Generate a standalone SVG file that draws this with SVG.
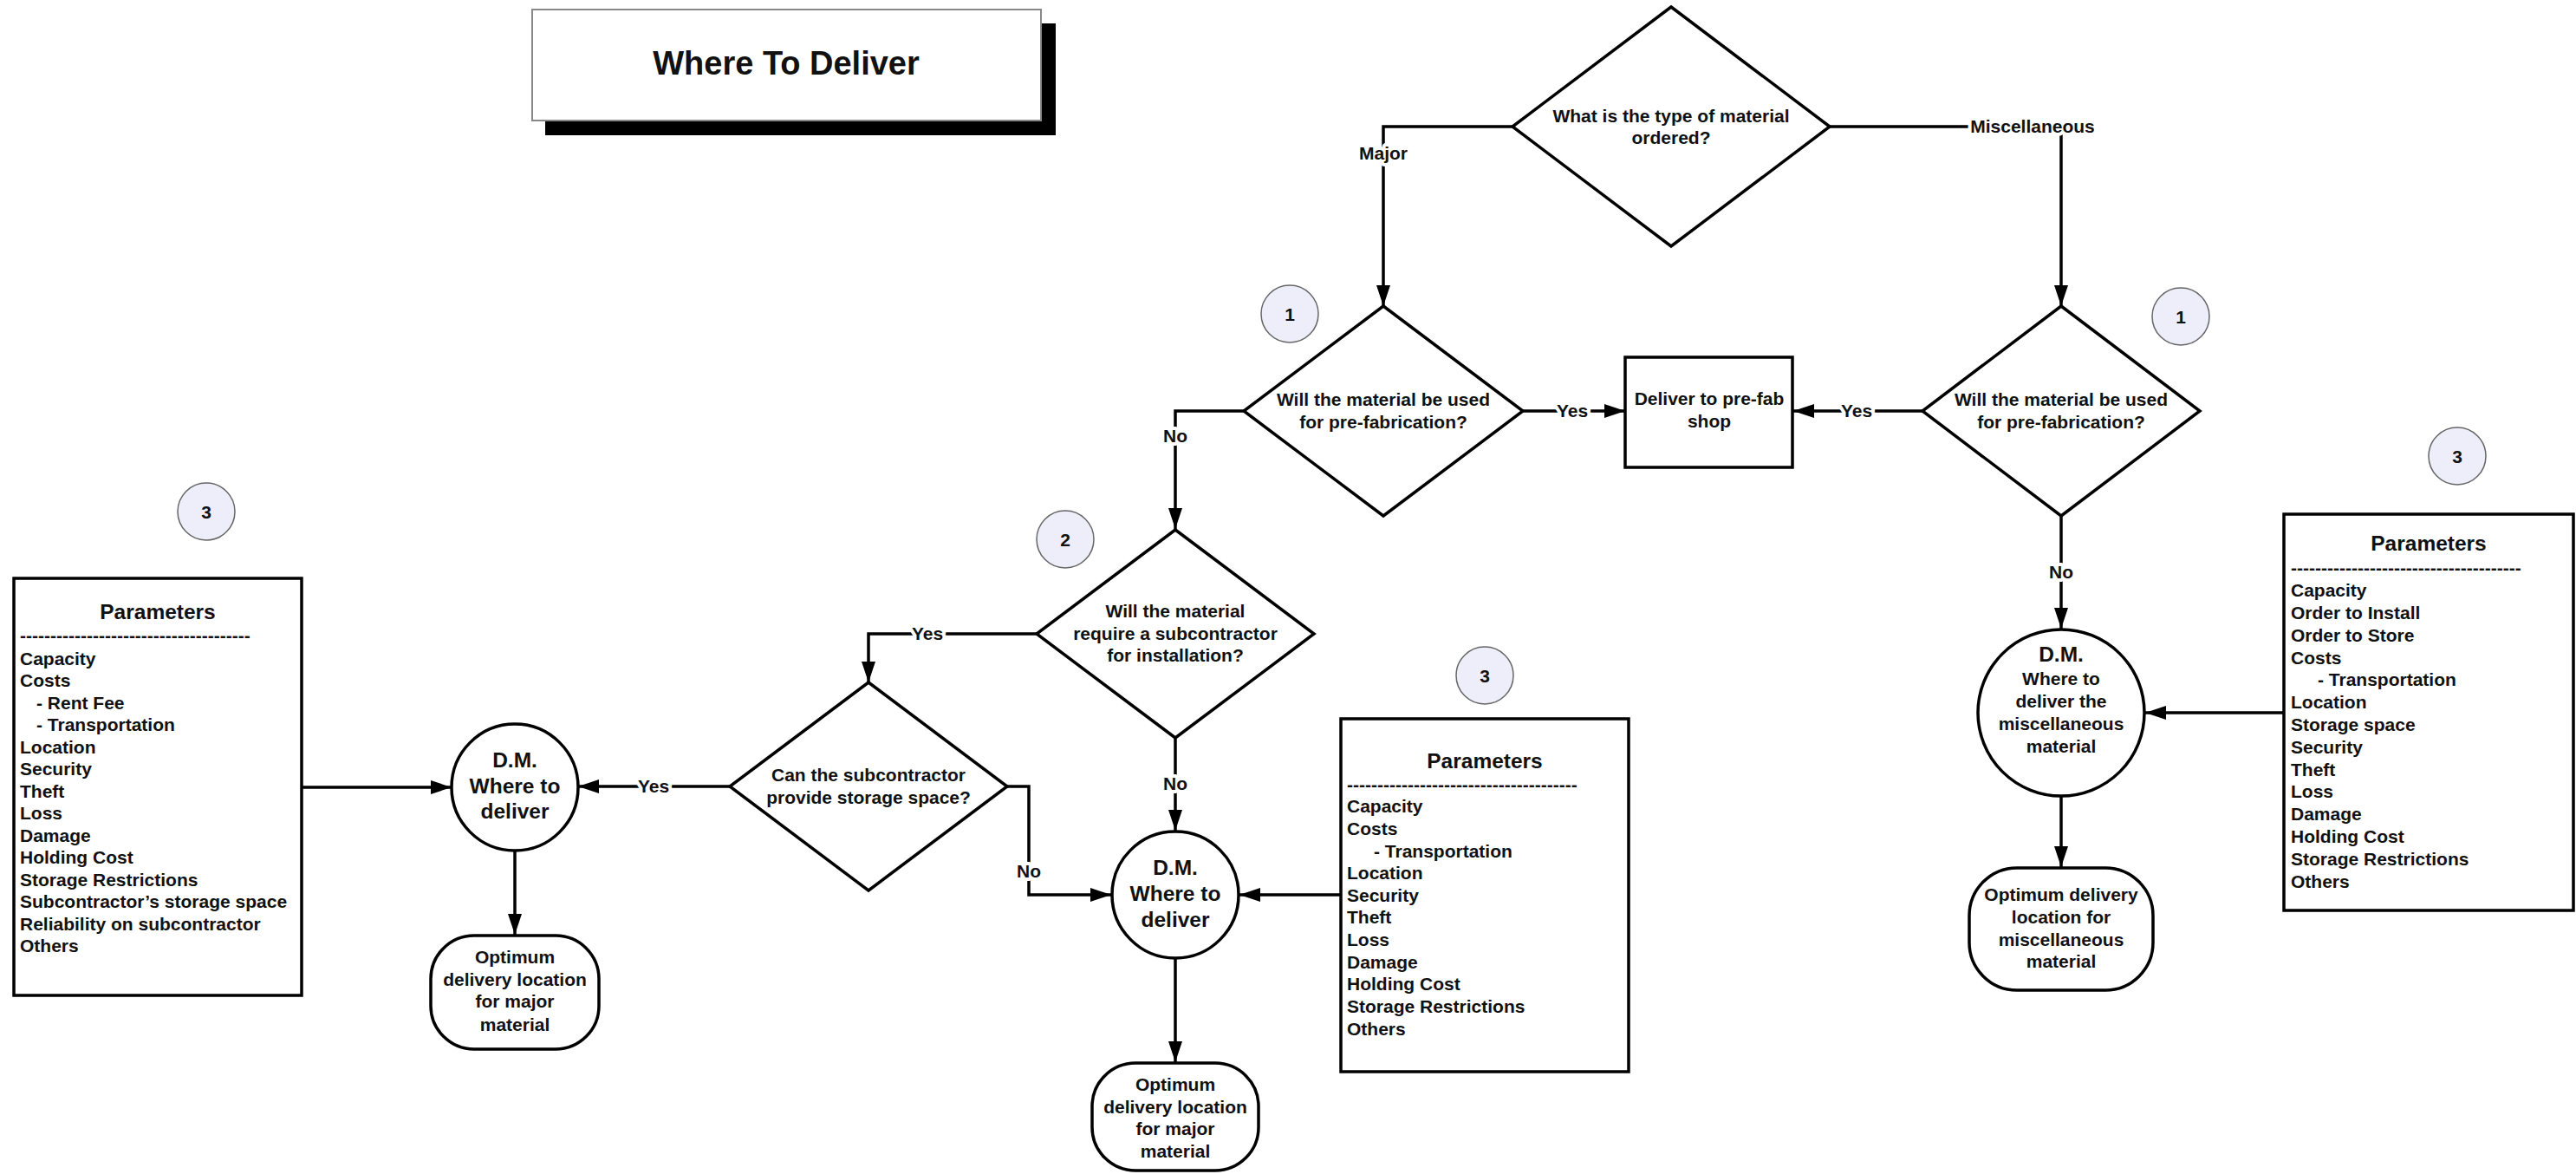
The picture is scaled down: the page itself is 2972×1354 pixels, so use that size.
<svg xmlns="http://www.w3.org/2000/svg" width="2972" height="1354" viewBox="0 0 2972 1354">
<style>
.t{font-family:"Liberation Sans",Arial,sans-serif;font-weight:bold;font-size:21px;fill:#111}
.c{text-anchor:middle}
.big{font-size:24.5px}
.lbl{paint-order:stroke;stroke:#fff;stroke-width:8px;stroke-linejoin:round}
.shape{fill:#fff;stroke:#000;stroke-width:3.5}
.conn{fill:none;stroke:#000;stroke-width:3.5}
.num{fill:#EEEEFA;stroke:#666;stroke-width:1.5}
</style>
<defs>
<marker id="arr" markerUnits="userSpaceOnUse" markerWidth="24" markerHeight="16" refX="24" refY="8" orient="auto">
<path d="M0,0 L24,8 L0,16 z" fill="#000"/>
</marker>
</defs>
<rect width="2972" height="1354" fill="#fff"/>

<g id="title">
<rect x="629" y="27" width="589" height="129" fill="#000"/>
<rect x="614" y="11" width="587" height="128" fill="#fff" stroke="#888" stroke-width="2"/>
<text class="t c" x="907" y="86" style="font-size:38px">Where To Deliver</text>
</g>

<g id="connectors">
<path class="conn" d="M1745,146 H1596 V353" marker-end="url(#arr)"/>
<path class="conn" d="M2111,146 H2378 V353" marker-end="url(#arr)"/>
<path class="conn" d="M1757,474 H1875" marker-end="url(#arr)"/>
<path class="conn" d="M2218,474 H2069" marker-end="url(#arr)"/>
<path class="conn" d="M1435,474 H1356 V610" marker-end="url(#arr)"/>
<path class="conn" d="M1196,731 H1002 V787" marker-end="url(#arr)"/>
<path class="conn" d="M1356,851 V958" marker-end="url(#arr)"/>
<path class="conn" d="M1162,907 H1187 V1032 H1282" marker-end="url(#arr)"/>
<path class="conn" d="M842,907 H667" marker-end="url(#arr)"/>
<path class="conn" d="M348,908 H521" marker-end="url(#arr)"/>
<path class="conn" d="M594,981 V1078" marker-end="url(#arr)"/>
<path class="conn" d="M1547,1032 H1430" marker-end="url(#arr)"/>
<path class="conn" d="M1356,1106 V1225" marker-end="url(#arr)"/>
<path class="conn" d="M2378,595 V725" marker-end="url(#arr)"/>
<path class="conn" d="M2635,822 H2475" marker-end="url(#arr)"/>
<path class="conn" d="M2378,918 V1000" marker-end="url(#arr)"/>
<text class="t c lbl" x="1596" y="184">Major</text>
<text class="t c lbl" x="2345" y="153">Miscellaneous</text>
<text class="t c lbl" x="1814" y="481">Yes</text>
<text class="t c lbl" x="2142" y="481">Yes</text>
<text class="t c lbl" x="1356" y="510">No</text>
<text class="t c lbl" x="1070" y="738">Yes</text>
<text class="t c lbl" x="754" y="914">Yes</text>
<text class="t c lbl" x="1187" y="1012">No</text>
<text class="t c lbl" x="1356" y="911">No</text>
<text class="t c lbl" x="2378" y="667">No</text>
</g>

<g id="d-type">
<polygon class="shape" points="1928,8 2111,146 1928,284 1745,146"/>
<text class="t c" x="1928" y="141">What is the type of material</text>
<text class="t c" x="1928" y="166">ordered?</text>
</g>

<g id="d-prefab-major">
<polygon class="shape" points="1596,353 1757,474 1596,595 1435,474"/>
<text class="t c" x="1596" y="468">Will the material be used</text>
<text class="t c" x="1596" y="494">for pre-fabrication?</text>
</g>

<g id="d-prefab-misc">
<polygon class="shape" points="2378,353 2538,474 2378,595 2218,474"/>
<text class="t c" x="2378" y="468">Will the material be used</text>
<text class="t c" x="2378" y="494">for pre-fabrication?</text>
</g>

<g id="prefab-shop">
<rect class="shape" x="1875" y="412" width="193" height="127"/>
<text class="t c" x="1972" y="467">Deliver to pre-fab</text>
<text class="t c" x="1972" y="493">shop</text>
</g>

<g id="d-subcontractor">
<polygon class="shape" points="1356,611 1516,731 1356,851 1196,731"/>
<text class="t c" x="1356" y="712">Will the material</text>
<text class="t c" x="1356" y="738">require a subcontractor</text>
<text class="t c" x="1356" y="763">for installation?</text>
</g>

<g id="d-storage">
<polygon class="shape" points="1002,787 1162,907 1002,1027 842,907"/>
<text class="t c" x="1002" y="901">Can the subcontractor</text>
<text class="t c" x="1002" y="927">provide storage space?</text>
</g>

<g id="dm-left">
<circle class="shape" cx="594" cy="908" r="73"/>
<text class="t c big" x="594" y="885">D.M.</text>
<text class="t c big" x="594" y="915">Where to</text>
<text class="t c big" x="594" y="944">deliver</text>
</g>

<g id="dm-center">
<circle class="shape" cx="1356" cy="1032" r="73"/>
<text class="t c big" x="1356" y="1009">D.M.</text>
<text class="t c big" x="1356" y="1039">Where to</text>
<text class="t c big" x="1356" y="1069">deliver</text>
</g>

<g id="dm-right">
<circle class="shape" cx="2378" cy="822" r="96"/>
<text class="t c big" x="2378" y="763">D.M.</text>
<text class="t c" x="2378" y="790">Where to</text>
<text class="t c" x="2378" y="816">deliver the</text>
<text class="t c" x="2378" y="842">miscellaneous</text>
<text class="t c" x="2378" y="868">material</text>
</g>

<g id="opt-left">
<rect class="shape" x="497" y="1079" width="194" height="131" rx="50" ry="50"/>
<text class="t c" x="594" y="1111">Optimum</text>
<text class="t c" x="594" y="1137">delivery location</text>
<text class="t c" x="594" y="1162">for major</text>
<text class="t c" x="594" y="1189">material</text>
</g>

<g id="opt-center">
<rect class="shape" x="1260" y="1226" width="192" height="124" rx="50" ry="50"/>
<text class="t c" x="1356" y="1258">Optimum</text>
<text class="t c" x="1356" y="1284">delivery location</text>
<text class="t c" x="1356" y="1309">for major</text>
<text class="t c" x="1356" y="1335">material</text>
</g>

<g id="opt-right">
<rect class="shape" x="2272" y="1001" width="212" height="141" rx="55" ry="55"/>
<text class="t c" x="2378" y="1039">Optimum delivery</text>
<text class="t c" x="2378" y="1065">location for</text>
<text class="t c" x="2378" y="1091">miscellaneous</text>
<text class="t c" x="2378" y="1116">material</text>
</g>

<g id="params-left">
<rect class="shape" x="16" y="667" width="332" height="481"/>
<text class="t c big" x="182" y="714">Parameters</text>
<text class="t" x="23" y="740">--------------------------------------</text>
<text class="t" x="23" y="767">Capacity</text>
<text class="t" x="23" y="792">Costs</text>
<text class="t" x="42" y="818">- Rent Fee</text>
<text class="t" x="42" y="843">- Transportation</text>
<text class="t" x="23" y="869">Location</text>
<text class="t" x="23" y="894">Security</text>
<text class="t" x="23" y="920">Theft</text>
<text class="t" x="23" y="945">Loss</text>
<text class="t" x="23" y="971">Damage</text>
<text class="t" x="23" y="996">Holding Cost</text>
<text class="t" x="23" y="1022">Storage Restrictions</text>
<text class="t" x="23" y="1047">Subcontractor’s storage space</text>
<text class="t" x="23" y="1073">Reliability on subcontractor</text>
<text class="t" x="23" y="1098">Others</text>
</g>

<g id="params-center">
<rect class="shape" x="1547" y="829" width="332" height="407"/>
<text class="t c big" x="1713" y="886">Parameters</text>
<text class="t" x="1554" y="912">--------------------------------------</text>
<text class="t" x="1554" y="937">Capacity</text>
<text class="t" x="1554" y="963">Costs</text>
<text class="t" x="1585" y="989">- Transportation</text>
<text class="t" x="1554" y="1014">Location</text>
<text class="t" x="1554" y="1040">Security</text>
<text class="t" x="1554" y="1065">Theft</text>
<text class="t" x="1554" y="1091">Loss</text>
<text class="t" x="1554" y="1117">Damage</text>
<text class="t" x="1554" y="1142">Holding Cost</text>
<text class="t" x="1554" y="1168">Storage Restrictions</text>
<text class="t" x="1554" y="1194">Others</text>
</g>

<g id="params-right">
<rect class="shape" x="2635" y="593" width="334" height="457"/>
<text class="t c big" x="2802" y="635">Parameters</text>
<text class="t" x="2643" y="662">--------------------------------------</text>
<text class="t" x="2643" y="688">Capacity</text>
<text class="t" x="2643" y="714">Order to Install</text>
<text class="t" x="2643" y="740">Order to Store</text>
<text class="t" x="2643" y="766">Costs</text>
<text class="t" x="2674" y="791">- Transportation</text>
<text class="t" x="2643" y="817">Location</text>
<text class="t" x="2643" y="843">Storage space</text>
<text class="t" x="2643" y="869">Security</text>
<text class="t" x="2643" y="895">Theft</text>
<text class="t" x="2643" y="920">Loss</text>
<text class="t" x="2643" y="946">Damage</text>
<text class="t" x="2643" y="972">Holding Cost</text>
<text class="t" x="2643" y="998">Storage Restrictions</text>
<text class="t" x="2643" y="1024">Others</text>
</g>

<g id="num-1-major">
<circle class="num" cx="1488" cy="362" r="33"/>
<text class="t c" x="1488" y="370">1</text>
</g>
<g id="num-1-misc">
<circle class="num" cx="2516" cy="365" r="33"/>
<text class="t c" x="2516" y="373">1</text>
</g>
<g id="num-2">
<circle class="num" cx="1229" cy="622" r="33"/>
<text class="t c" x="1229" y="630">2</text>
</g>
<g id="num-3-left">
<circle class="num" cx="238" cy="590" r="33"/>
<text class="t c" x="238" y="598">3</text>
</g>
<g id="num-3-center">
<circle class="num" cx="1713" cy="779" r="33"/>
<text class="t c" x="1713" y="787">3</text>
</g>
<g id="num-3-right">
<circle class="num" cx="2835" cy="526" r="33"/>
<text class="t c" x="2835" y="534">3</text>
</g>
</svg>
